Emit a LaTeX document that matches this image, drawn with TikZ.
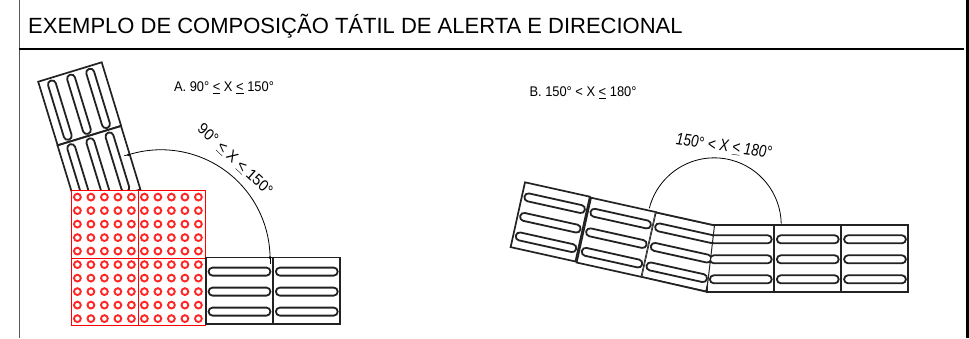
\documentclass[tikz,border=0pt]{standalone}
\usepackage{fontspec}
\setmainfont{Liberation Sans}
\definecolor{tileink}{HTML}{222222}
\tikzset{
  tileedge/.style={draw=tileink,line width=1.7pt},
  slotedge/.style={draw=tileink,line width=1.8pt,rounded corners=3.9pt},
  dotring/.style={draw=red!85!white,line width=1.9pt,fill=white},
  anglearc/.style={draw=black,line width=0.8pt},
  smalltext/.style={font=\fontsize{14}{16}\selectfont,xscale=0.92,inner sep=0pt},
  arctext/.style={font=\fontsize{17}{19}\selectfont\itshape,xscale=0.8,inner sep=0pt},
  slottile/.pic={
    \path[tileedge] (0,0) rectangle (66.4,66.4);
    \foreach \y in {14,34,54}
      \path[slotedge] (2.6,\y-4) rectangle (64.4,\y+4);
  },
  dottile/.pic={
    \path[draw=red,line width=1pt,fill=white] (0,0) rectangle (67,67.5);
    \foreach \x in {0,...,4}
      \foreach \y in {0,...,4}
        \path[dotring] (6.4+13.5*\x,6.6+13.5*\y) circle (3.4);
  }
}
\begin{document}
\begin{tikzpicture}[x=1pt,y=-1pt]
\useasboundingbox (0,0) rectangle (969,338);

\coordinate (frametop) at (19.5,0);
\coordinate (framebottom) at (19.5,338);
\coordinate (frametopright) at (967.5,0);
\coordinate (framebottomright) at (967.5,338);
\coordinate (headleft) at (19,49);
\coordinate (headright) at (964,49);
\path[draw=black!65,line width=1pt] (frametop) -- (framebottom);
\path[draw=black,line width=3pt] (frametopright) -- (framebottomright);
\path[draw=black,line width=2.4pt] (headleft) -- (headright);

\node[anchor=base west,inner sep=0pt,font=\fontsize{22}{26}\selectfont] (title) at (28,33.5) {EXEMPLO DE COMPOSIÇÃO TÁTIL DE ALERTA E DIRECIONAL};

% case A
\pic[rotate=-73] at (101.7,62.3) {slottile};
\pic[rotate=-73] at (121,126) {slottile};
\pic at (71,190.5) {dottile};
\pic at (138,190.5) {dottile};
\pic at (71,258) {dottile};
\pic at (138,258) {dottile};
\pic at (206,257.6) {slottile};
\pic at (273.3,257.6) {slottile};

\coordinate (arcAstart) at (128.3,154.8);
\coordinate (arcAend) at (270,257.5);
\path[anglearc] (arcAstart) arc[start angle=-107.5,end angle=0,radius=109];
\path[anglearc] (arcAend) -- ++(0,6);
\path[anglearc] (arcAstart) -- ++(-4,0.8);
\fill (arcAstart) circle (1.3);
\fill (arcAend) circle (1.3);

\node[smalltext] (labelA) at (224,88) {A. 90° \underline{<} X \underline{<} 150°};
\node[arctext,rotate=-37] (arclabelA) at (235,160) {90° \underline{<} X \underline{<} 150°};

% case B
\pic at (707.3,225.3) {slottile};
\pic at (774.3,225.3) {slottile};
\pic at (841.5,225.3) {slottile};
\pic[rotate=-12.5] at (525,182.3) {slottile};
\pic[rotate=-12.5] at (591,197.7) {slottile};
\coordinate (cornerAtop) at (655.7,212.3);
\coordinate (bendtop) at (714.5,225.3);
\coordinate (bendbottom) at (706.7,291.8);
\coordinate (cornerAbottom) at (641.6,276.9);
\begin{scope}
\clip (cornerAtop) -- (bendtop) -- (bendbottom) -- (cornerAbottom) -- cycle;
\fill[white] (cornerAtop) -- (bendtop) -- (bendbottom) -- (cornerAbottom) -- cycle;
\pic[rotate=-12.5] at (cornerAtop) {slottile};
\end{scope}
\path[tileedge] (cornerAtop) -- (bendtop);
\path[tileedge] (cornerAbottom) -- (bendbottom);
\path[draw=tileink,line width=1pt] (bendtop) -- (bendbottom);

\coordinate (arcBstart) at (649.3,208.3);
\path[anglearc] (arcBstart) arc[start angle=-165.7,end angle=-1,radius=67];

\node[smalltext] (labelB) at (583,92.7) {B. 150° < X \underline{<} 180°};
\node[arctext,rotate=-6.5] (arclabelB) at (724,146.7) {150° < X \underline{<} 180°};
\end{tikzpicture}
\end{document}
